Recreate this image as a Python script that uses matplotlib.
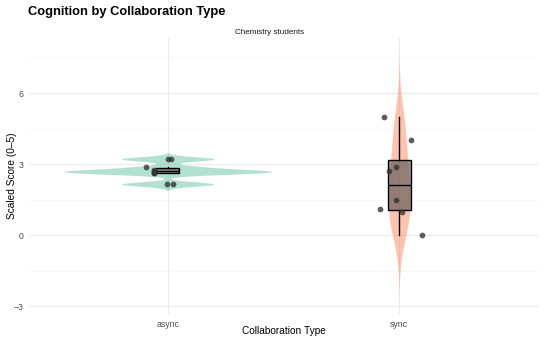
import numpy as np
import matplotlib.pyplot as plt

plt.rcParams['font.family'] = ['Liberation Sans', 'DejaVu Sans']

groups = ['async', 'sync']
async_scores = [3.22, 3.22, 2.88, 2.75, 2.71, 2.68, 2.63, 2.63, 2.16, 2.16]
sync_scores = [5.0, 4.0, 2.9, 2.7, 1.5, 1.1, 1.0, 0.0]
# fixed horizontal jitter
async_jitter = [0.0, 0.013, -0.095, -0.06, -0.06, -0.06, -0.06, -0.06, -0.003, 0.022]
sync_jitter = [-0.065, 0.052, -0.013, -0.043, -0.013, -0.082, 0.013, 0.1]

data = [np.array(async_scores), np.array(sync_scores)]
jitters = [async_jitter, sync_jitter]
fills = ['#66C2A5', '#FC8D62']


def nrd0(x):
    q75, q25 = np.percentile(x, [75, 25])
    lo = min(np.std(x, ddof=1), (q75 - q25) / 1.34)
    return 0.9 * lo * len(x) ** -0.2


def kde(x):
    bw = nrd0(x)
    grid = np.linspace(x.min() - 3 * bw, x.max() + 3 * bw, 512)
    d = np.exp(-0.5 * ((grid[:, None] - x[None, :]) / bw) ** 2).sum(axis=1)
    d /= len(x) * bw * np.sqrt(2 * np.pi)
    return grid, d


dens = [kde(x) for x in data]
dmax = max(d.max() for _, d in dens)

fig = plt.figure(figsize=(5.5, 3.41), dpi=100)
ax = fig.add_axes([29 / 550, 1 - 314 / 341, 509 / 550, 276 / 341])

for i, ((grid, d), c) in enumerate(zip(dens, fills)):
    w = 0.45 * d / dmax
    ax.fill_betweenx(grid, i + 1 - w, i + 1 + w, color=c, alpha=0.5, lw=0, zorder=2)

bp = ax.boxplot(data, positions=[1, 2], widths=0.1, showfliers=False, showcaps=False,
                patch_artist=True, zorder=3,
                boxprops=dict(facecolor=(0.3, 0.3, 0.3, 0.6), edgecolor='black', linewidth=1.0),
                whiskerprops=dict(color='black', linewidth=1.0),
                medianprops=dict(color='black', linewidth=1.0))

for i, (x, j) in enumerate(zip(data, jitters)):
    ax.scatter(np.array(j) + i + 1, x, s=17, color='#333333', alpha=0.8, lw=0, zorder=4)

lo = min(g.min() for g, _ in dens)
hi = max(g.max() for g, _ in dens)
pad = 0.05 * (hi - lo)
ax.set_ylim(lo - pad, hi + pad)
ax.set_xlim(0.4, 2.6)

ax.set_yticks([-3, 0, 3, 6])
ax.set_yticks([-1.5, 1.5, 4.5, 7.5], minor=True)
ax.set_xticks([1, 2])
ax.set_xticklabels(groups)
ax.grid(which='major', color='#ebebeb', lw=0.8)
ax.grid(which='minor', axis='y', color='#f4f4f4', lw=0.5)
ax.set_axisbelow(True)
for s in ax.spines.values():
    s.set_visible(False)
ax.tick_params(which='both', length=0, labelsize=6.3, labelcolor='#4d4d4d', pad=4)

fig.text(28 / 550, 1 - 12 / 341, 'Cognition by Collaboration Type', fontsize=9.3,
         fontweight='bold', va='center', ha='left')
fig.text(270 / 550, 1 - 33 / 341, 'Chemistry students', fontsize=5.9, color='#1a1a1a',
         va='center', ha='center')
fig.text(12 / 550, 1 - 176 / 341, 'Scaled Score (0–5)', fontsize=7.3, rotation=90,
         va='center', ha='center')
fig.text(284 / 550, 1 - 331 / 341, 'Collaboration Type', fontsize=7.3, va='center', ha='center')

fig.savefig('out.png', dpi=100)
